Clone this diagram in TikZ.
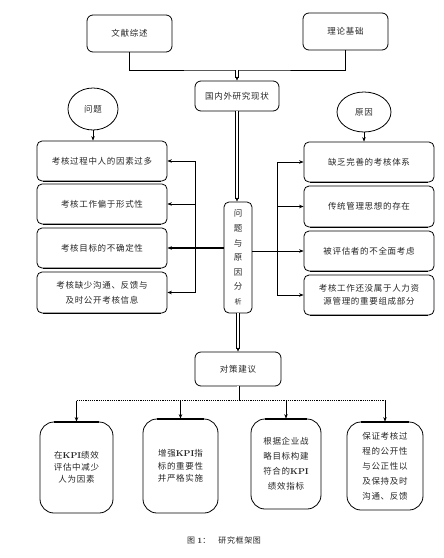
\documentclass[tikz,border=0pt]{standalone}
\usepackage{fontspec}
\newfontfamily\cjk[LetterSpace=8]{Noto Sans CJK SC}
\usetikzlibrary{arrows.meta,shapes.geometric}
\begin{document}
\begin{tikzpicture}[x=1pt,y=-1pt,
  base/.style={font=\cjk\fontsize{8.5}{11}\selectfont, inner sep=0pt, align=center, text=black!85},
  rbox/.style={base, draw, line width=0.8pt, rounded corners=6pt},
  sbox/.style={base, draw, line width=0.8pt, rounded corners=5pt, minimum width=130pt, minimum height=40pt},
  bbox/.style={base, draw, line width=0.8pt, rounded corners=14pt},
  oval/.style={base, draw, ellipse, line width=0.8pt},
  arr/.style={-{Stealth[length=4.5pt,width=3.5pt]}, line width=0.6pt},
  dbl/.style={double, double distance=2pt, line width=0.5pt},
  ln/.style={line width=0.6pt}
]
\useasboundingbox (0,0) rectangle (444,558);

% top boxes
\node[rbox, minimum width=85pt, minimum height=37pt] (wx) at (129.5,33.5) {文献综述};
\node[rbox, minimum width=85pt, minimum height=37pt] (ll) at (345.5,31.5) {理论基础};
\node[rbox, minimum width=84pt, minimum height=30pt] (gn) at (237,96) {国内外研究现状};
\coordinate (j) at (237,70);
\draw[ln] (wx.south) |- (j) -| (ll.south);
\draw[dbl, arr] (j) -- (gn.north);

% ellipses
\node[oval, minimum width=50pt, minimum height=42pt] (wt) at (93,109) {问题};
\node[oval, minimum width=54pt, minimum height=40pt] (yy) at (364,112) {原因};

% left boxes
\node[sbox] (L1) at (102,161) {考核过程中人的因素过多};
\node[sbox] (L2) at (102,204) {考核工作偏于形式性};
\node[sbox] (L3) at (102,248) {考核目标的不确定性};
\node[sbox, minimum height=41pt, font=\cjk\fontsize{8.5}{15}\selectfont] (L4) at (102,292.5) {考核缺少沟通、反馈与\\及时公开考核信息};

% right boxes
\node[sbox] (R1) at (369,162) {缺乏完善的考核体系};
\node[sbox, minimum height=41pt] (R2) at (369,206.5) {传统管理思想的存在};
\node[sbox] (R3) at (369,251) {被评估者的不全面考虑};
\node[sbox, font=\cjk\fontsize{8.5}{13}\selectfont] (R4) at (369,295) {考核工作还没属于人力资\\源管理的重要组成部分};

\foreach \n in {L1,L2,L3,L4,R1,R2,R3,R4}{
  \draw[line width=1.6pt] ([xshift=6pt]\n.south west) -- ([xshift=-6pt]\n.south east);
}

% middle box
\node[rbox, rounded corners=5pt, minimum width=28pt, minimum height=111pt, font=\cjk\fontsize{8.5}{14.6}\selectfont] (mid) at (238,257.5) {问\\题\\与\\原\\因\\分\\{\fontsize{7}{8}\selectfont 析}};
\draw[dbl, arr] (gn.south) -- (gn.south |- mid.north);

\draw[arr] (wt.south) -- (wt.south |- L1.north);
\draw[arr] (yy.south) -- (yy.south |- R1.north);

% left bracket
\coordinate (lb) at (195,0);
\draw[ln] (lb |- L1.east) -- (lb |- L4.east);
\foreach \n in {L1,L2,L4}{ \draw[arr] (lb |- \n.east) -- (\n.east); }
\draw[arr, line width=1.5pt] (mid.west |- L3.east) -- (L3.east);

% right bracket
\coordinate (rb) at (277,0);
\draw[line width=1pt] (rb |- R1.west) -- (rb |- R4.west);
\foreach \n in {R1,R2,R4}{ \draw[arr, line width=1pt] (rb |- \n.west) -- (\n.west); }
\draw[arr] (mid.east |- R3.west) -- (R3.west);

% strategy box
\node[rbox, minimum width=86pt, minimum height=34pt] (dc) at (238,369) {对策建议};
\draw[dbl, arr] (mid.south) -- (mid.south |- dc.north);
\coordinate (k) at (238,400.5);
\draw[dbl] (dc.south) -- (k);

% bottom boxes
\node[bbox, minimum width=73pt, minimum height=91pt, font=\cjk\fontsize{8.5}{12}\selectfont] (b1) at (76.5,467.5) {在{\rmfamily\bfseries KPI}绩效\\评估中减少\\人为因素};
\node[bbox, minimum width=75pt, minimum height=94pt] (b2) at (180.5,466) {\raisebox{8pt}{\parbox{64pt}{\centering\cjk\fontsize{8.5}{12.5}\selectfont 增强{\rmfamily\bfseries KPI}指\\标的重要性\\并严格实施}}};
\node[bbox, minimum width=70pt, minimum height=90pt] (b3) at (286,464) {\raisebox{-10pt}{\parbox{64pt}{\centering\cjk\fontsize{8.5}{15}\selectfont 根据企业战\\略目标构建\\符合的{\rmfamily\bfseries KPI}\\绩效指标}}};
\node[bbox, minimum width=76pt, minimum height=88pt, font=\cjk\fontsize{8.5}{15}\selectfont] (b4) at (385,466) {保证考核过\\程的公开性\\与公正性以\\及保持及时\\沟通、反馈};

\foreach \n in {b1,b2,b3,b4}{
  \draw[line width=1.8pt] ([xshift=14pt]\n.north west) -- ([xshift=-14pt]\n.north east);
}

\draw[densely dotted, line width=1.2pt] (b1.north |- k) -- (b4.north |- k);
\foreach \n in {b1,b2,b3,b4}{ \draw[arr] (\n.north |- k) -- (\n.north); }

% caption
\node[base, font=\cjk\fontsize{8}{10}\selectfont] (cap) at (224,540) {图 {\rmfamily\bfseries 1}：\quad 研究框架图};
\end{tikzpicture}
\end{document}
